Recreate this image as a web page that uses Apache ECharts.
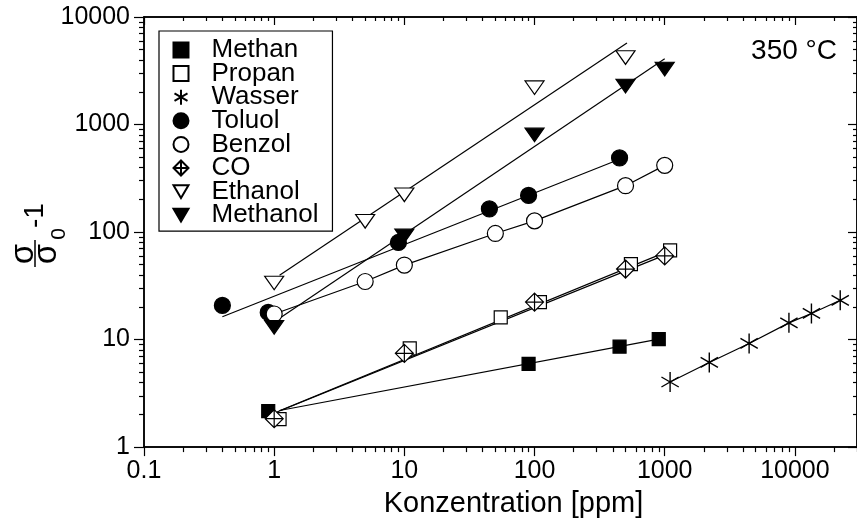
<!DOCTYPE html>
<html>
<head>
<meta charset="utf-8">
<script src="https://cdn.jsdelivr.net/npm/echarts@6/dist/echarts.min.js"></script>
<style>html,body{margin:0;padding:0;background:#fff;}#c{width:857px;height:523px;}</style>
</head>
<body>
<div id="c"></div>
<script>
// ---- data ----
const xTickValues = [0.1, 1, 10, 100, 1000, 10000];
const xTickLabels = ['0.1', '1', '10', '100', '1000', '10000'];
const yTickValues = [1, 10, 100, 1000, 10000];
const yTickLabels = ['1', '10', '100', '1000', '10000'];
const seriesNames = ['Methan', 'Propan', 'Wasser', 'Toluol', 'Benzol', 'CO', 'Ethanol', 'Methanol'];

const methanX = [0.9, 90, 450, 900];
const methanY = [2.16, 5.95, 8.6, 10.1];
const propanX = [1.1, 11, 55, 110, 550, 1100];
const propanY = [1.82, 8.3, 16.1, 22.3, 50.4, 67.6];
const wasserX = [1100, 2200, 4450, 9000, 13400, 22300];
const wasserY = [4.03, 6.13, 9.2, 14.3, 17.5, 23.2];
const toluolX = [0.4, 0.9, 9, 45, 90, 450];
const toluolY = [20.8, 17.9, 80, 164, 219, 489];
const benzolX = [1, 5, 10, 50, 100, 500, 1000];
const benzolY = [17.3, 34.7, 49.3, 97, 127, 270, 417];
const coX = [1, 10, 100, 500, 1000];
const coY = [1.84, 7.45, 22.3, 45.3, 60];
const ethanolX = [1, 5, 10, 100, 500];
const ethanolY = [33.6, 126, 222, 2200, 4200];
const methanolX = [1, 10, 100, 500, 1000];
const methanolY = [13, 92, 800, 2280, 3280];

// fitted lines (end points)
const methanFitX = [1.1, 900];     const methanFitY = [2.19, 10.1];
const propanFitX = [1.1, 1100];    const propanFitY = [2.18, 67.6];
const coFitX = [1.05, 1000];       const coFitY = [2.12, 61];
const toluolFitX = [0.4, 450];     const toluolFitY = [16.3, 476];
const ethanolFitX = [1.1, 513];    const ethanolFitY = [39.7, 5745];
const methanolFitX = [1.13, 1000]; const methanolFitY = [16.1, 4100];

const tempLabel = '350 °C';
const xName = 'Konzentration [ppm]';

// ---- build ----
function pairs(xs, ys) { return xs.map((x, i) => [x, ys[i]]); }
function minorTicks(lo, hi) {
  const out = [];
  for (let d = lo; d < hi; d *= 10) for (let m = 2; m <= 9; m++) out.push(+(d * m).toPrecision(6));
  return out;
}
const xMinor = minorTicks(0.1, 30000).filter(v => v <= 30000);
const yMinor = minorTicks(1, 10000);

const FONT = 'Liberation Sans, Arial, Helvetica, sans-serif';
const SYM = {
  Methan: { symbol: 'rect', size: 13, fill: '#000' },
  Propan: { symbol: 'rect', size: 13, fill: '#fff' },
  Wasser: { symbol: 'path://M10 0L10 20M1.34 5L18.66 15M1.34 15L18.66 5', size: 20, fill: 'none' },
  Toluol: { symbol: 'circle', size: 16, fill: '#000' },
  Benzol: { symbol: 'circle', size: 16, fill: '#fff' },
  CO: { symbol: 'path://M10 0L20 10L10 20L0 10ZM10 0L10 20M0 10L20 10', size: 18, fill: '#fff' },
  Ethanol: { symbol: 'path://M0 0L20 0L10 17Z', size: [19, 16], fill: '#fff' },
  Methanol: { symbol: 'path://M0 0L20 0L10 17Z', size: [19, 16], fill: '#000' }
};
const points = {
  Methan: pairs(methanX, methanY), Propan: pairs(propanX, propanY), Wasser: pairs(wasserX, wasserY),
  Toluol: pairs(toluolX, toluolY), Benzol: pairs(benzolX, benzolY), CO: pairs(coX, coY),
  Ethanol: pairs(ethanolX, ethanolY), Methanol: pairs(methanolX, methanolY)
};
const lines = [
  pairs(methanFitX, methanFitY), pairs(propanFitX, propanFitY), pairs(coFitX, coFitY),
  pairs(toluolFitX, toluolFitY), pairs(ethanolFitX, ethanolFitY), pairs(methanolFitX, methanolFitY),
  points.Benzol, points.Wasser
];

const series = [];
lines.forEach((d, i) => series.push({
  name: 'fit' + i, type: 'line', data: d, symbol: 'none', silent: true, z: 1,
  lineStyle: { color: '#000', width: 1.2 }, animation: false
}));
seriesNames.forEach((n, i) => {
  const s = SYM[n];
  series.push({
    name: n, type: 'scatter', data: points[n], symbol: s.symbol, symbolSize: s.size,
    symbolKeepAspect: true, z: 3 + i * 0.01, animation: false,
    itemStyle: { color: s.fill, borderColor: '#000', borderWidth: n === 'Wasser' ? 1.4 : 1.2, opacity: 1 }
  });
});

const axisLine = { show: true, lineStyle: { color: '#000', width: 1.5 } };
function xAx(pos, ticks, len, inside, labels) {
  return {
    type: 'log', logBase: 10, min: 0.1, max: 30000, position: pos, gridIndex: 0,
    axisLine: axisLine, splitLine: { show: false },
    axisTick: { show: true, inside: inside, length: len, customValues: ticks, lineStyle: { color: '#000', width: 1.2 } },
    axisLabel: labels ? {
      show: true, customValues: xTickValues, margin: 12, color: '#000', fontSize: 25, fontFamily: FONT,
      formatter: v => xTickLabels[xTickValues.findIndex(t => Math.abs(t - v) / t < 1e-6)] || ''
    } : { show: false }
  };
}
function yAx(pos, ticks, len, inside, labels) {
  return {
    type: 'log', logBase: 10, min: 1, max: 10000, position: pos, gridIndex: 0,
    axisLine: axisLine, splitLine: { show: false },
    axisTick: { show: true, inside: inside, length: len, customValues: ticks, lineStyle: { color: '#000', width: 1.2 } },
    axisLabel: labels ? {
      show: true, customValues: yTickValues, margin: 14, color: '#000', fontSize: 25, fontFamily: FONT,
      formatter: v => yTickLabels[yTickValues.findIndex(t => Math.abs(t - v) / t < 1e-6)] || ''
    } : { show: false }
  };
}
const xAxes = [
  xAx('bottom', xTickValues, 9, false, true),
  xAx('bottom', xMinor, 5, false, false),
  xAx('top', xTickValues, 8, true, false),
  xAx('top', xMinor, 4, true, false)
];
xAxes[0].name = xName;
xAxes[0].nameLocation = 'middle';
xAxes[0].nameGap = 40;
xAxes[0].nameTextStyle = { color: '#000', fontSize: 29, fontFamily: FONT, padding: [0, 0, 0, 26] };
const yAxes = [
  yAx('left', yTickValues, 10, false, true),
  yAx('left', yMinor, 5, false, false),
  yAx('right', yTickValues, 9, true, false),
  yAx('right', yMinor, 4, true, false)
];

const option = {
  animation: false,
  backgroundColor: '#fff',
  grid: { left: 144, top: 17, width: 715, height: 438.7, containLabel: false },
  xAxis: xAxes,
  yAxis: yAxes,
  legend: {
    data: seriesNames, orient: 'vertical', left: 159, top: 31,
    itemWidth: 15, itemHeight: 15, itemGap: -2.4,
    padding: [6, 14, 3, 13], borderColor: '#000', borderWidth: 1.2, backgroundColor: '#fff',
    textStyle: { color: '#000', fontSize: 26, fontFamily: FONT, padding: [0, 0, 0, 18] },
    selectedMode: false, symbolKeepAspect: true
  },
  graphic: [
    { type: 'text', right: 20, top: 37, style: { text: tempLabel, fill: '#000', font: '28px ' + FONT } },
    {
      type: 'group', x: 35, y: 267, rotation: Math.PI / 2,
      children: [
        { type: 'line', shape: { x1: 0, y1: 0, x2: 27, y2: 0 }, style: { stroke: '#000', lineWidth: 1.5 } },
        { type: 'text', x: 13, y: -11, style: { text: 'σ', fill: '#000', font: '33px ' + FONT, align: 'center', verticalAlign: 'middle' } },
        { type: 'text', x: 13, y: 12, style: { text: 'σ', fill: '#000', font: '33px ' + FONT, align: 'center', verticalAlign: 'middle' } },
        { type: 'text', x: 33, y: 24, style: { text: '0', fill: '#000', font: '21px ' + FONT, align: 'center', verticalAlign: 'middle' } },
        { type: 'text', x: 39, y: 0, style: { text: '-1', fill: '#000', font: '28px ' + FONT, align: 'left', verticalAlign: 'middle' } }
      ]
    }
  ],
  series: series
};
const chart = echarts.init(document.getElementById('c'), null, { renderer: 'canvas' });
chart.setOption(option);
</script>
</body>
</html>
